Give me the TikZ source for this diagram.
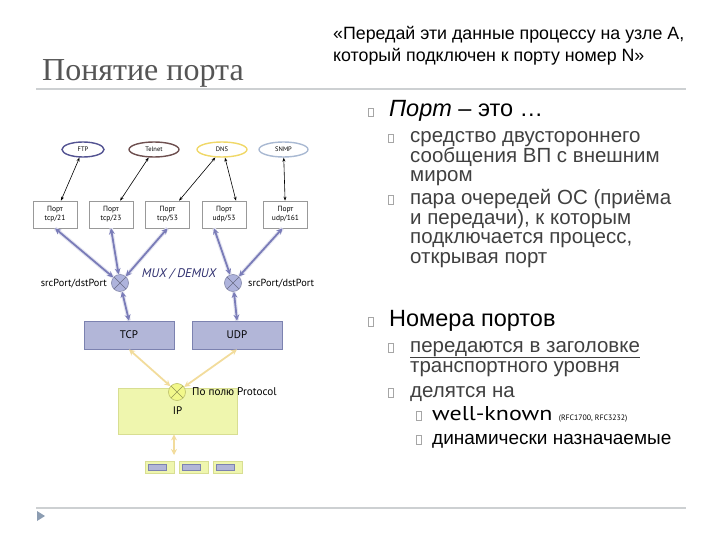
\documentclass[tikz,border=0pt]{standalone}
\usepackage{fontspec}
\setmainfont{Liberation Sans}
\newfontfamily\titlefont{Liberation Serif}
\newfontfamily\gillfont{PT Sans}
\newfontfamily\gillwide[FakeStretch=1.2]{PT Sans}
\usepackage{xcolor}
\usetikzlibrary{arrows.meta}
\usetikzlibrary{shapes.geometric}

\definecolor{rulegray}{HTML}{CDD0D2}
\definecolor{titlegray}{HTML}{555555}
\definecolor{textgray}{HTML}{404040}
\definecolor{trigray}{HTML}{8C9DB2}
\definecolor{ftpc}{HTML}{535392}
\definecolor{telnetc}{HTML}{6E5050}
\definecolor{dnsc}{HTML}{F0D868}
\definecolor{snmpc}{HTML}{A9B9D2}
\definecolor{arrowblue}{HTML}{7A7CB8}
\definecolor{muxfill}{HTML}{AEB3DC}
\definecolor{boxfill}{HTML}{B2B6D8}
\definecolor{boxline}{HTML}{7C82B0}
\definecolor{arrowyellow}{HTML}{F2DC9C}
\definecolor{ipfill}{HTML}{EFF6AE}
\definecolor{ipline}{HTML}{D8DE92}
\definecolor{muxtext}{HTML}{2E2E6E}

\tikzset{
  app/.style={ellipse, line width=1.4pt, fill=white, minimum width=42pt, minimum height=15pt, inner sep=0pt, font=\gillfont\fontsize{6.5}{7}\selectfont},
  portbox/.style={rectangle, draw=gray!80, line width=0.6pt, fill=white, minimum width=44pt, minimum height=27pt, inner sep=0pt, align=center, font=\gillfont\fontsize{7.5}{9}\selectfont},
  mux/.style={circle, draw=#1!80!black, fill=#1, line width=0.7pt, minimum size=17pt, inner sep=0pt,
    path picture={\draw[#1!60!black, line width=0.6pt] (path picture bounding box.north west) -- (path picture bounding box.south east)
                  (path picture bounding box.north east) -- (path picture bounding box.south west);}},
  layer/.style={rectangle, draw=boxline, fill=boxfill, line width=0.8pt, minimum width=90pt, minimum height=28pt, font=\gillfont\fontsize{11}{11}\selectfont},
  ifbox/.style={rectangle, draw=ipline, fill=ipfill, line width=0.6pt, minimum width=29pt, minimum height=12pt, inner sep=0pt,
    path picture={\fill[boxfill, draw=boxline, line width=0.4pt] ([xshift=3pt,yshift=-3pt]path picture bounding box.north west) rectangle ++(18pt,-6pt);}},
  lbl/.style={inner sep=0pt, font=\gillfont\fontsize{10.3}{11}\selectfont},
  thinarrow/.style={{Stealth[length=4pt,width=3pt]}-{Stealth[length=4pt,width=3pt]}, line width=0.6pt, black},
  bluearrow/.style={{Stealth[length=6pt,width=6pt]}-{Stealth[length=6pt,width=6pt]}, line width=1.8pt, arrowblue,
    preaction={draw=arrowblue!20, line width=4pt, -}},
  yellowarrow/.style={{Stealth[length=6pt,width=6pt]}-{Stealth[length=6pt,width=6pt]}, line width=1.8pt, arrowyellow},
  bulletbox/.style={draw=gray!70, line width=0.5pt, minimum width=5pt, minimum height=8.5pt, inner sep=0pt, anchor=south west},
  txt/.style={anchor=base west, inner sep=0pt, align=left}
}

\begin{document}
\begin{tikzpicture}[x=1pt, y=-1pt]
  \useasboundingbox (0,0) rectangle (720,540);

  % title and rules (multi-line texts sit on their last baseline)
  \node[txt, font=\titlefont\fontsize{32}{32}\selectfont, text=titlegray] (title) at (42,81) {Понятие порта};
  \node[txt, font=\fontsize{17.8}{22}\selectfont] (quote) at (333,62) {«Передай эти данные процессу на узле А,\\который подключен к порту номер N»};
  \draw[rulegray, line width=1.5pt] (36,89) -- (686,89);
  \draw[rulegray, line width=1.5pt] (36,508) -- (686,508);
  \fill[trigray] (37,511) -- (45,516) -- (37,521) -- cycle;

  % applications
  \node[app, draw=ftpc] (ftp) at (83,149.5) {FTP};
  \node[app, draw=telnetc, minimum width=50pt] (telnet) at (154,149.5) {Telnet};
  \node[app, draw=dnsc, minimum width=50pt] (dns) at (222,149.5) {DNS};
  \node[app, draw=snmpc, minimum width=49pt] (snmp) at (283.5,149.5) {SNMP};

  % ports
  \node[portbox] (p21) at (55,214.5) {Порт\\tcp/21};
  \node[portbox] (p23) at (111,214.5) {Порт\\tcp/23};
  \node[portbox] (p53t) at (167.5,214.5) {Порт\\tcp/53};
  \node[portbox] (p53u) at (224,214.5) {Порт\\udp/53};
  \node[portbox] (p161) at (285.5,214.5) {Порт\\udp/161};

  \draw[thinarrow] (ftp) -- (p21);
  \draw[thinarrow] (telnet) -- (p23);
  \draw[thinarrow] (dns) -- (p53t);
  \draw[thinarrow] ([xshift=3pt]dns.south) -- ([xshift=12pt]p53u.north);
  \draw[thinarrow] (snmp) -- (p161);

  % mux / demux
  \node[mux=muxfill] (muxl) at (120,283) {};
  \node[mux=muxfill] (muxr) at (233,283) {};
  \node[lbl, anchor=east] (srcl) at (107,284) {srcPort/dstPort};
  \node[lbl, anchor=west] (srcr) at (248,284) {srcPort/dstPort};
  \node[lbl, font=\gillfont\itshape\fontsize{12.5}{12.5}\selectfont, text=muxtext] (muxlbl) at (179,274) {MUX / DEMUX};

  \draw[bluearrow] (p21.south) -- (muxl);
  \draw[bluearrow] (p23.south) -- (muxl);
  \draw[bluearrow] (p53t.south) -- (muxl);
  \draw[bluearrow] ([xshift=-10pt]p53u.south) -- (muxr);
  \draw[bluearrow] ([xshift=-3pt]p161.south) -- (muxr);

  % transport
  \node[layer] (tcp) at (129,335) {TCP};
  \node[layer] (udp) at (237,335) {UDP};
  \draw[bluearrow] (muxl) -- (tcp.north);
  \draw[bluearrow] (muxr) -- (udp.north);

  % network
  \node[rectangle, draw=ipline, fill=ipfill, line width=0.8pt, minimum width=119pt, minimum height=46pt,
        font=\gillfont\fontsize{11}{11}\selectfont] (ip) at (177.5,411) {IP};
  \node[mux=ipfill!80!yellow] (muxip) at (177,392) {};
  \node[lbl, anchor=west, font=\gillfont\fontsize{11.2}{12}\selectfont] (proto) at (192,392) {По полю Protocol};
  \draw[yellowarrow] (tcp.south) -- (muxip);
  \draw[yellowarrow] (udp.south) -- (muxip);

  \node[ifbox] (if1) at (159.5,467) {};
  \node[ifbox] (if2) at (193.5,467) {};
  \node[ifbox] (if3) at (228,467) {};
  \coordinate (ifbus) at (174,455);
  \draw[yellowarrow] ([xshift=-3.5pt]ip.south) -- (ifbus);

  % right column
  \node[bulletbox] (b1) at (368,117) {};
  \node[txt, font=\fontsize{23.5}{23.5}\selectfont] (t1) at (389,117) {\textit{Порт} – это …};
  \node[bulletbox] (b11) at (388,143) {};
  \node[txt, font=\fontsize{20.5}{19.5}\selectfont, text=textgray] (t11) at (410,182) {средство двустороннего\\сообщения ВП с внешним\\миром};
  \node[bulletbox] (b12) at (388,204.5) {};
  \node[txt, font=\fontsize{20.5}{19.5}\selectfont, text=textgray] (t12) at (410,263) {пара очередей ОС (приёма\\и передачи), к которым\\подключается процесс,\\открывая порт};

  \node[bulletbox] (b2) at (368,326) {};
  \node[txt, font=\fontsize{23.5}{23.5}\selectfont] (t2) at (389,326) {Номера портов};
  \node[bulletbox] (b21) at (388,352) {};
  \node[txt, font=\fontsize{20.5}{20}\selectfont, text=textgray] (t21) at (410,372) {\underline{передаются в заголовке}\\транспортного уровня};
  \node[bulletbox] (b22) at (388,397) {};
  \node[txt, font=\fontsize{20.5}{20.5}\selectfont, text=textgray] (t22) at (410,397) {делятся на};
  \node[bulletbox] (b221) at (416,420) {};
  \node[txt, font=\gillwide\fontsize{20}{20}\selectfont] (t221) at (432,420) {well-known {\gillfont\fontsize{7.8}{8}\selectfont (RFC1700, RFC3232)}};
  \node[bulletbox] (b222) at (416,444) {};
  \node[txt, font=\fontsize{19}{19}\selectfont] (t222) at (432,444) {динамически назначаемые};
\end{tikzpicture}
\end{document}
